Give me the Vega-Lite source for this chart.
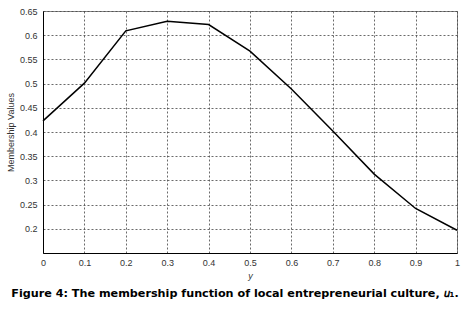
{
  "$schema": "https://vega.github.io/schema/vega-lite/v6.json",
  "width": 414,
  "height": 242,
  "autosize": "none",
  "padding": {"left": 43, "top": 11, "right": 17, "bottom": 58},
  "background": "white",
  "data": {"values": [
    {"y": 0.0, "m": 0.423},
    {"y": 0.1, "m": 0.501},
    {"y": 0.2, "m": 0.609},
    {"y": 0.3, "m": 0.629},
    {"y": 0.4, "m": 0.622},
    {"y": 0.5, "m": 0.567},
    {"y": 0.6, "m": 0.489},
    {"y": 0.7, "m": 0.402},
    {"y": 0.8, "m": 0.313},
    {"y": 0.9, "m": 0.242},
    {"y": 1.0, "m": 0.197}
  ]},
  "title": {
    "text": "Figure 4: The membership function of local entrepreneurial culture, 𝑢₁.",
    "orient": "bottom",
    "anchor": "middle",
    "font": "DejaVu Sans",
    "fontSize": 11.2,
    "fontWeight": "bold",
    "color": "black",
    "offset": 8,
    "dx": -15
  },
  "config": {
    "view": {"stroke": "#888", "strokeWidth": 1},
    "axis": {
      "labelFont": "Liberation Sans",
      "labelFontSize": 9,
      "labelColor": "#333",
      "titleFont": "Liberation Sans",
      "titleFontSize": 9,
      "titleFontWeight": "normal",
      "titleColor": "#333",
      "grid": true,
      "gridColor": "#444",
      "gridDash": [2, 2],
      "gridWidth": 0.8,
      "domainColor": "black",
      "domainWidth": 1,
      "ticks": false
    }
  },
  "mark": {"type": "line", "color": "black", "strokeWidth": 1.5},
  "encoding": {
    "x": {
      "field": "y",
      "type": "quantitative",
      "scale": {"domain": [0, 1], "nice": false},
      "axis": {
        "values": [0, 0.1, 0.2, 0.3, 0.4, 0.5, 0.6, 0.7, 0.8, 0.9, 1],
        "format": "~g",
        "title": "y",
        "titleFontStyle": "italic",
        "titlePadding": 4,
        "labelPadding": 5,
        "labelFlush": false
      }
    },
    "y": {
      "field": "m",
      "type": "quantitative",
      "scale": {"domain": [0.15, 0.65], "nice": false, "zero": false},
      "axis": {
        "values": [0.2, 0.25, 0.3, 0.35, 0.4, 0.45, 0.5, 0.55, 0.6, 0.65],
        "format": "~g",
        "title": "Membership Values",
        "titlePadding": 4,
        "labelPadding": 6,
        "labelFlush": false
      }
    }
  }
}
